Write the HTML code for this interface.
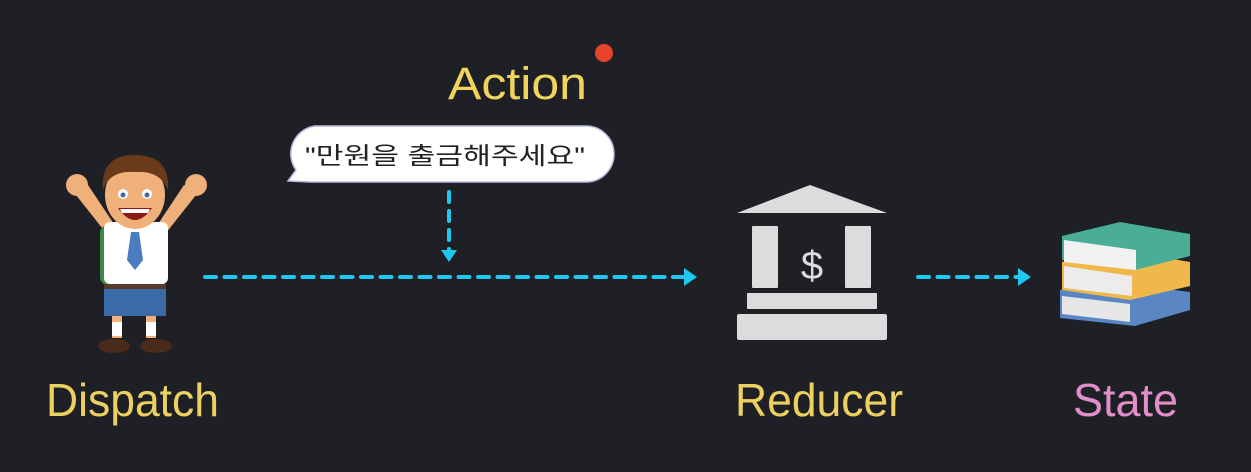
<!DOCTYPE html>
<html><head><meta charset="utf-8"><style>
html,body{margin:0;padding:0;background:#1e2026;}
svg{display:block}
text{font-family:"Liberation Sans","Noto Sans CJK KR",sans-serif;}
</style></head><body>
<svg width="1251" height="472" viewBox="0 0 1251 472" xmlns="http://www.w3.org/2000/svg">
<rect width="1251" height="472" fill="#1e2026"/>
<!-- Action -->
<text x="448" y="99" font-size="45" fill="#f0d45c" textLength="139" lengthAdjust="spacingAndGlyphs">Action</text>
<circle cx="604" cy="53" r="9" fill="#e8442a"/>
<!-- bubble -->
<path d="M315 126 H586 A28 28 0 0 1 586 182 H310 L288 181 L296 170 A28 28 0 0 1 315 126 Z" fill="#ffffff" stroke="#b8b8e0" stroke-width="1.5"/>
<text x="305" y="164" font-size="24" fill="#222" textLength="280" lengthAdjust="spacingAndGlyphs">"만원을 출금해주세요"</text>
<!-- arrows -->
<g stroke="#1ec8f0" stroke-width="4" stroke-linecap="round" fill="none">
<line x1="449" y1="192" x2="449" y2="252" stroke-dasharray="10 9"/>
<line x1="205" y1="277" x2="688" y2="277" stroke-dasharray="11 8.5"/>
<line x1="918" y1="277" x2="1022" y2="277" stroke-dasharray="11 8.5"/>
</g>
<g fill="#1ec8f0">
<path d="M441 250 L457 250 L449 262 Z"/>
<path d="M684 268 L697 277 L684 286 Z"/>
<path d="M1018 268 L1031 277 L1018 286 Z"/>
</g>
<!-- boy -->
<g>
<path d="M72 190 L110 238 L118 230 L88 185 Z" fill="#f0b07a"/>
<path d="M200 190 L162 238 L154 230 L184 185 Z" fill="#f0b07a"/>
<circle cx="77" cy="185" r="11" fill="#f0b07a"/>
<circle cx="196" cy="185" r="11" fill="#f0b07a"/>
<rect x="100" y="225" width="68" height="60" rx="8" fill="#3a8a4a"/>
<rect x="104" y="222" width="64" height="62" rx="6" fill="#ffffff"/>
<path d="M131 232 L139 232 L143 260 L135 270 L127 260 Z" fill="#4a7cc0"/>
<rect x="104" y="284" width="62" height="6" fill="#5a3a2a"/>
<path d="M104 289 H166 V316 H104 Z" fill="#3a6aa8"/>
<rect x="112" y="316" width="10" height="22" fill="#f0b07a"/>
<rect x="146" y="316" width="10" height="22" fill="#f0b07a"/>
<rect x="112" y="322" width="10" height="14" fill="#fff"/>
<rect x="146" y="322" width="10" height="14" fill="#fff"/>
<ellipse cx="114" cy="346" rx="16" ry="7" fill="#4a2a1a"/>
<ellipse cx="156" cy="346" rx="16" ry="7" fill="#4a2a1a"/>
<ellipse cx="135" cy="195" rx="30" ry="34" fill="#f0b07a"/>
<path d="M103 190 Q100 155 135 155 Q170 155 168 190 Q160 170 135 172 Q110 170 103 190 Z" fill="#6a3a1a"/>
<circle cx="123" cy="194" r="5" fill="#fff"/><circle cx="147" cy="194" r="5" fill="#fff"/>
<circle cx="123" cy="195" r="2.5" fill="#3a6aa8"/><circle cx="147" cy="195" r="2.5" fill="#3a6aa8"/>
<path d="M118 208 Q135 232 152 208 Z" fill="#8a1a1a"/>
<path d="M120 209 H150 L148 213 H122 Z" fill="#fff"/>
</g>
<!-- bank -->
<g fill="#dcdcdc">
<path d="M737 213 L810 185 L887 213 Z"/>
<rect x="752" y="226" width="26" height="62" rx="1"/>
<rect x="845" y="226" width="26" height="62" rx="1"/>
<rect x="747" y="293" width="130" height="16" rx="1"/>
<rect x="737" y="314" width="150" height="26" rx="2"/>
</g>
<text x="812" y="279" font-size="40" fill="#dcdcdc" text-anchor="middle">$</text>
<!-- books -->
<g>
<path d="M1060 290 L1100 280 L1190 292 L1190 310 L1135 326 L1060 318 Z" fill="#5a86c4"/>
<path d="M1062 296 L1130 304 L1130 322 L1062 314 Z" fill="#e6e6e6"/>
<path d="M1062 262 L1120 250 L1190 262 L1190 286 L1130 300 L1062 290 Z" fill="#f0b84a"/>
<path d="M1064 266 L1132 276 L1132 296 L1064 288 Z" fill="#ececec"/>
<path d="M1062 236 L1120 222 L1190 234 L1190 256 L1135 270 L1062 260 Z" fill="#4aae96"/>
<path d="M1064 240 L1136 250 L1136 270 L1064 262 Z" fill="#f2f2f2"/>
</g>
<!-- labels -->
<text x="46" y="416" font-size="46" fill="#ecd060" textLength="173" lengthAdjust="spacingAndGlyphs">Dispatch</text>
<text x="735" y="416" font-size="46" fill="#ecd060" textLength="168" lengthAdjust="spacingAndGlyphs">Reducer</text>
<text x="1073" y="416" font-size="46" fill="#e08fc9" textLength="105" lengthAdjust="spacingAndGlyphs">State</text>
</svg>
</body></html>
